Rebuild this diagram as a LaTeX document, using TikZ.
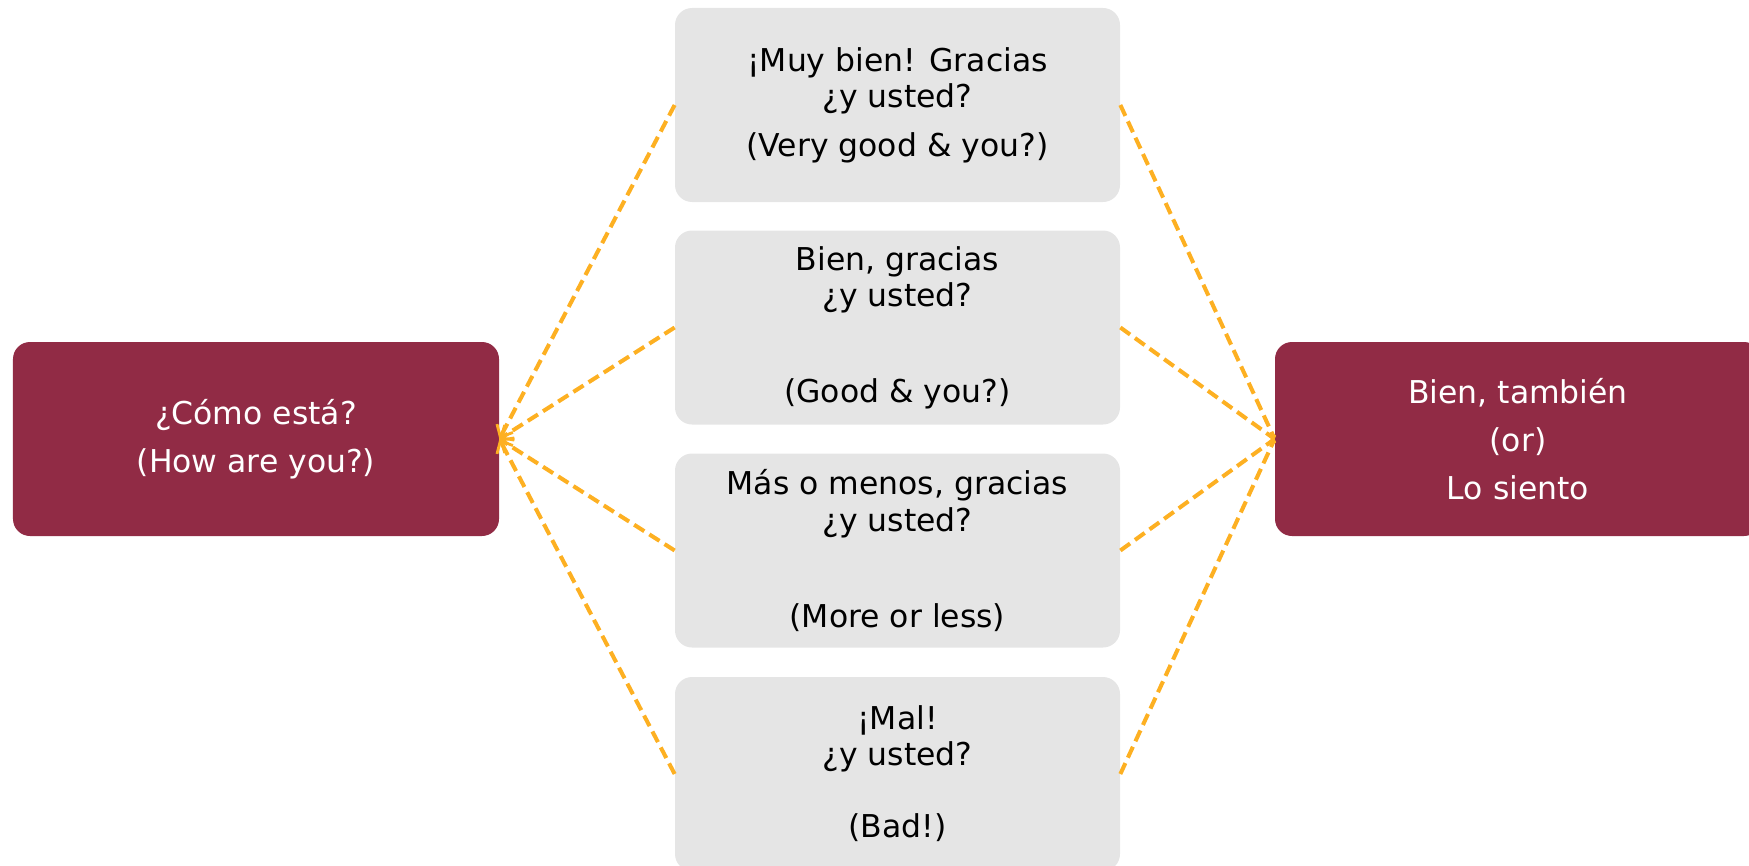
\documentclass[tikz,border=0pt]{standalone}
\usepackage{fontspec}
\setmainfont{DejaVu Sans}
\usepackage{tikz}
\usetikzlibrary{arrows.meta}
\definecolor{wine}{HTML}{912B45}
\definecolor{lightgrey}{HTML}{E5E5E5}
\definecolor{amber}{HTML}{FDB022}
\tikzset{
	box/.style = {rounded corners=.34cm, inner sep=0pt, minimum width=9.72cm, minimum height=3.88cm, align=center, font=\fontsize{17.9pt}{20.5pt}\selectfont},
	darkbox/.style = {box, fill=wine, text=white},
	greybox/.style = {box, fill=lightgrey, text=black, minimum width=8.9cm},
	link/.style = {draw=amber, line width=2.3pt, dash pattern=on .24cm off .12cm}
}
\begin{document}
\begin{tikzpicture}
				\clip (0,0) rectangle (34.98,-17.32);
				% \draw[fill = white, draw = none] (0,0) rectangle (34.98,-17.32);
				\node[darkbox] (como) at (5.12,-8.78) {¿Cómo está?\\[.24cm](How are you?)};
				\node[darkbox] (tambien) at (30.36,-8.78) {Bien, también\\[.24cm](or)\\[.24cm]Lo siento};
				\node[greybox] (muy) at (17.95,-2.1) {¡Muy bien! Gracias\\¿y usted?\\[.26cm](Very good \& you?)};
				\node[greybox] (bien) at (17.95,-6.55) {Bien, gracias\\¿y usted?\\[1.2cm](Good \& you?)};
				\node[greybox] (mas) at (17.95,-11.01) {Más o menos, gracias\\¿y usted?\\[1.2cm](More or less)};
				\node[greybox] (mal) at (17.95,-15.48) {¡Mal!\\¿y usted?\\[.72cm](Bad!)};
				\foreach \r in {muy,bien,mas,mal} {
					\draw[link, -{Straight Barb[length=.2cm,width=.36cm,line width=1.6pt]}] (\r.west) -- (como.east);
					\draw[link, -{Straight Barb[length=.05cm,width=.1cm,line width=.6pt]}] (\r.east) -- (tambien.west);
				}
			\end{tikzpicture}
\end{document}
